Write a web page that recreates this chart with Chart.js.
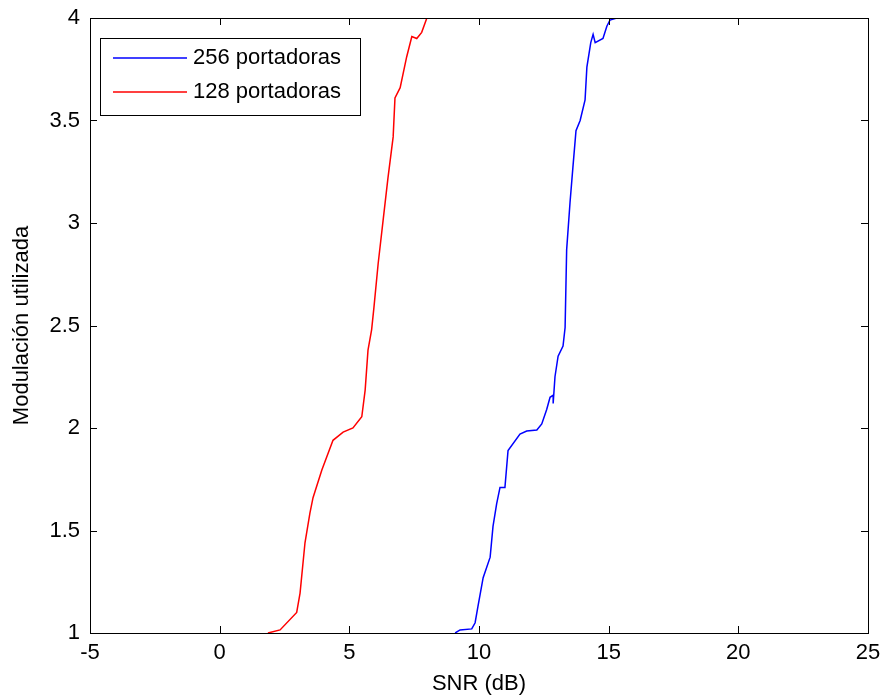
<!DOCTYPE html>
<html>
<head>
<meta charset="utf-8">
<script src="https://cdn.jsdelivr.net/npm/chart.js@4.4.0/dist/chart.umd.min.js"></script>
<style>
  body { margin: 0; background: #fff; }
  #wrap { width: 885px; height: 700px; }
</style>
</head>
<body>
<div id="wrap"><canvas id="myChart" width="885" height="700"></canvas></div>
<script>
// values (SNR in dB, modulation used)
var snr256 = [9.08, 9.27, 9.72, 9.85, 9.96, 10.16, 10.43, 10.54, 10.68, 10.81, 11.00, 11.12, 11.58, 11.84, 12.23, 12.42, 12.61, 12.74, 12.86, 12.86, 12.93, 13.05, 13.24, 13.32, 13.38, 13.51, 13.62, 13.74, 13.90, 14.09, 14.16, 14.31, 14.40, 14.48, 14.78, 14.93, 15.05, 15.31];
var mod256 = [1.00, 1.015, 1.02, 1.05, 1.13, 1.27, 1.37, 1.52, 1.63, 1.71, 1.71, 1.89, 1.97, 1.985, 1.99, 2.02, 2.09, 2.15, 2.16, 2.12, 2.25, 2.35, 2.40, 2.49, 2.87, 3.10, 3.27, 3.45, 3.50, 3.60, 3.76, 3.88, 3.92, 3.88, 3.90, 3.96, 3.99, 4.00];

var snr128 = [1.86, 2.33, 2.97, 3.10, 3.29, 3.48, 3.60, 3.94, 4.37, 4.76, 5.14, 5.48, 5.61, 5.72, 5.86, 5.95, 6.11, 6.30, 6.49, 6.69, 6.76, 6.96, 7.21, 7.41, 7.60, 7.79, 7.99];
var mod128 = [1.00, 1.015, 1.10, 1.195, 1.44, 1.585, 1.66, 1.795, 1.94, 1.98, 2.00, 2.055, 2.185, 2.38, 2.48, 2.59, 2.80, 3.01, 3.22, 3.42, 3.61, 3.66, 3.81, 3.91, 3.90, 3.93, 4.00];

var seriesLabels = ['256 portadoras', '128 portadoras'];
var seriesColors = ['#0000ff', '#ff0000'];
var xTicks = [-5, 0, 5, 10, 15, 20, 25];
var yTicks = [1, 1.5, 2, 2.5, 3, 3.5, 4];

var fontFamily = "'Liberation Sans', Arial, sans-serif";

function pairs(xs, ys) {
    var out = [];
    for (var i = 0; i < xs.length; i++) out.push({ x: xs[i], y: ys[i] });
    return out;
}

// box round the plot with inward ticks on all four sides, plus the legend box
var matlabFrame = {
    id: 'matlabFrame',
    afterDraw: function (chart) {
        var ctx = chart.ctx;
        var a = chart.chartArea;
        var xs = chart.scales.x, ys = chart.scales.y;
        ctx.save();
        ctx.strokeStyle = '#000';
        ctx.lineWidth = 1;
        ctx.strokeRect(a.left + 0.5, a.top + 0.5, a.right - a.left, a.bottom - a.top);
        var t = 7;
        ctx.beginPath();
        xTicks.forEach(function (v) {
            var px = Math.round(xs.getPixelForValue(v)) + 0.5;
            ctx.moveTo(px, a.bottom); ctx.lineTo(px, a.bottom - t);
            ctx.moveTo(px, a.top); ctx.lineTo(px, a.top + t);
        });
        yTicks.forEach(function (v) {
            var py = Math.round(ys.getPixelForValue(v)) + 0.5;
            ctx.moveTo(a.left, py); ctx.lineTo(a.left + t, py);
            ctx.moveTo(a.right, py); ctx.lineTo(a.right - t, py);
        });
        ctx.stroke();

        // legend
        var lx = a.left + 10, ly = a.top + 20, lw = 260, lh = 77;
        ctx.fillStyle = '#fff';
        ctx.fillRect(lx, ly, lw, lh);
        ctx.strokeStyle = '#000';
        ctx.strokeRect(lx + 0.5, ly + 0.5, lw, lh);
        ctx.font = '22px ' + fontFamily;
        ctx.textBaseline = 'middle';
        chart.data.datasets.forEach(function (ds, i) {
            var yy = ly + 20 + i * 34;
            ctx.strokeStyle = ds.borderColor;
            ctx.lineWidth = 1.5;
            ctx.beginPath();
            ctx.moveTo(lx + 13, yy); ctx.lineTo(lx + 87, yy);
            ctx.stroke();
            ctx.fillStyle = '#000';
            ctx.fillText(ds.label, lx + 93, yy);
        });
        ctx.restore();
    }
};

var ctx = document.getElementById('myChart').getContext('2d');
var myChart = new Chart(ctx, {
    type: 'line',
    data: {
        datasets: [
            {
                label: seriesLabels[0],
                data: pairs(snr256, mod256),
                borderColor: seriesColors[0],
                borderWidth: 1.5,
                pointRadius: 0,
                tension: 0
            },
            {
                label: seriesLabels[1],
                data: pairs(snr128, mod128),
                borderColor: seriesColors[1],
                borderWidth: 1.5,
                pointRadius: 0,
                tension: 0
            }
        ]
    },
    options: {
        responsive: false,
        animation: false,
        layout: { padding: { left: 0, right: 17, top: 18, bottom: 0 }, autoPadding: false },
        plugins: {
            legend: { display: false },
            tooltip: { enabled: false }
        },
        scales: {
            x: {
                type: 'linear',
                min: -5,
                max: 25,
                afterBuildTicks: function (s) { s.ticks = xTicks.map(function (v) { return { value: v }; }); },
                afterFit: function (s) { s.height = 67; s.paddingLeft = 0; s.paddingRight = 0; },
                grid: { display: false, drawTicks: false },
                border: { display: false },
                ticks: {
                    color: '#000', padding: 7, maxRotation: 0,
                    font: { family: fontFamily, size: 22 },
                    callback: function (v) { return String(v); }
                },
                title: {
                    display: true,
                    text: 'SNR (dB)',
                    color: '#000',
                    padding: { top: 0, bottom: 3 },
                    font: { family: fontFamily, size: 22 }
                }
            },
            y: {
                type: 'linear',
                min: 1,
                max: 4,
                afterBuildTicks: function (s) { s.ticks = yTicks.map(function (v) { return { value: v }; }); },
                afterFit: function (s) { s.width = 90; s.paddingTop = 0; s.paddingBottom = 0; },
                grid: { display: false, drawTicks: false },
                border: { display: false },
                ticks: {
                    color: '#000', padding: 10,
                    font: { family: fontFamily, size: 22 },
                    callback: function (v) { return String(v); }
                },
                title: {
                    display: true,
                    text: 'Modulación utilizada',
                    color: '#000',
                    padding: { top: 9, bottom: 0 },
                    font: { family: fontFamily, size: 22 }
                }
            }
        }
    },
    plugins: [matlabFrame]
});
</script>
</body>
</html>
